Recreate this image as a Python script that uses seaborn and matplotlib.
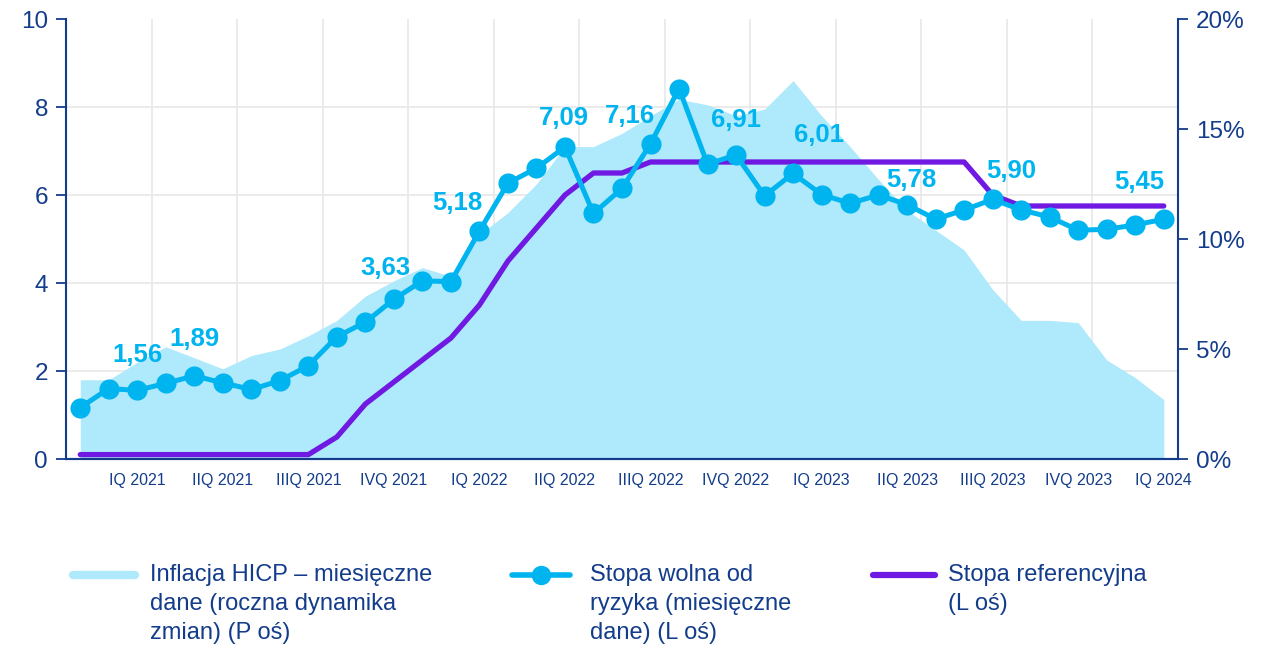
import pandas as pd
import matplotlib
matplotlib.use("Agg")
import matplotlib.pyplot as plt
from matplotlib.ticker import FixedLocator
from matplotlib.lines import Line2D
import seaborn as sns

# miesiące od I 2021 do III 2024 (indeksy 0..38)
months = list(range(39))

# Inflacja HICP r/r, % (prawa oś)
hicp = [3.6, 3.6, 4.4, 5.1, 4.6, 4.1, 4.7, 5.0, 5.6, 6.3,
        7.4, 8.1, 8.7, 8.3, 10.2, 11.2, 12.5, 14.2, 14.2, 14.8,
        15.6, 16.35, 16.1, 15.6, 15.9, 17.2, 15.6, 14.2, 12.7, 11.3,
        10.4, 9.5, 7.7, 6.3, 6.3, 6.2, 4.5, 3.7, 2.7]

# Stopa wolna od ryzyka (lewa oś)
risk_free = [1.17, 1.60, 1.56, 1.72, 1.89, 1.73, 1.58, 1.78, 2.12, 2.78,
             3.11, 3.63, 4.05, 4.03, 5.18, 6.27, 6.61, 7.09, 5.58, 6.15,
             7.16, 8.42, 6.70, 6.91, 5.98, 6.49, 6.01, 5.81, 6.00, 5.78,
             5.45, 5.66, 5.90, 5.66, 5.50, 5.20, 5.22, 5.32, 5.45]

# Stopa referencyjna NBP (lewa oś)
ref_rate = [0.10, 0.10, 0.10, 0.10, 0.10, 0.10, 0.10, 0.10, 0.10, 0.50,
            1.25, 1.75, 2.25, 2.75, 3.50, 4.50, 5.25, 6.00, 6.50, 6.50,
            6.75, 6.75, 6.75, 6.75, 6.75, 6.75, 6.75, 6.75, 6.75, 6.75,
            6.75, 6.75, 6.00, 5.75, 5.75, 5.75, 5.75, 5.75, 5.75]

quarter_labels = ["IQ 2021", "IIQ 2021", "IIIQ 2021", "IVQ 2021",
                  "IQ 2022", "IIQ 2022", "IIIQ 2022", "IVQ 2022",
                  "IQ 2023", "IIQ 2023", "IIIQ 2023", "IVQ 2023", "IQ 2024"]
quarter_end_months = [2, 5, 8, 11, 14, 17, 20, 23, 26, 29, 32, 35, 38]
quarter_bounds = [-0.5, 2.5, 5.5, 8.5, 11.5, 14.5, 17.5, 20.5, 23.5,
                  26.5, 29.5, 32.5, 35.5, 38.5]

# etykiety wartości: indeks miesiąca -> przesunięcie (px)
value_labels = {2: (0, 35), 4: (0, 37), 11: (-8, 31), 14: (-22, 28),
                17: (-1, 29), 20: (-21, 28), 23: (0, 35), 26: (-3, 60),
                29: (4, 25), 32: (19, 28), 38: (-24, 37)}

NAVY = "#133C8B"
AREA = "#AEE9FC"
CYAN = "#00B4EF"
PURPLE = "#6F19E2"
GRID = "#E8E8E8"

sns.set_style("white")
plt.rcParams["font.family"] = ["Liberation Sans", "DejaVu Sans"]

df = pd.DataFrame({"month": months, "hicp": hicp,
                   "risk_free": risk_free, "ref_rate": ref_rate})

fig = plt.figure(figsize=(12.69, 6.5), dpi=100)
ax = fig.add_axes([66 / 1269, 1 - 459 / 650, (1178 - 66) / 1269, 440 / 650])
ax2 = ax.twinx()

# prawa oś z tłem pod spodem
ax.set_zorder(ax2.get_zorder() + 1)
ax.patch.set_visible(False)
ax2.patch.set_visible(True)
ax2.patch.set_facecolor("white")
ax2.set_axisbelow(True)

ax2.fill_between(df["month"], 0, df["hicp"], color=AREA, lw=0, zorder=2)
ax2.set_ylim(0, 20)
ax2.set_yticks([0, 5, 10, 15, 20])
ax2.set_yticklabels([f"{v}%" for v in [0, 5, 10, 15, 20]])
ax2.yaxis.set_minor_locator(FixedLocator([4, 8, 12, 16, 20]))
ax2.grid(which="minor", axis="y", color=GRID, lw=1.2)
ax2.xaxis.set_visible(True)
ax2.grid(which="major", axis="x", color=GRID, lw=1.2)
ax2.tick_params(axis="x", which="both", length=0, labelbottom=False)
ax2.tick_params(axis="y", which="minor", length=0)
ax2.tick_params(axis="y", which="major", direction="out", length=7,
                width=1.3, color=NAVY, labelcolor=NAVY, labelsize=17.5, pad=6)

sns.lineplot(data=df, x="month", y="ref_rate", ax=ax, color=PURPLE,
             lw=3.8, solid_capstyle="round", zorder=3)
sns.lineplot(data=df, x="month", y="risk_free", ax=ax, color=CYAN,
             lw=3.6, marker="o", markersize=14.5, markeredgewidth=0, zorder=4)

for i, (dx, dy) in value_labels.items():
    ax.annotate(f"{risk_free[i]:.2f}".replace(".", ","), (i, risk_free[i]),
                xytext=(dx, dy), textcoords="offset pixels",
                ha="center", va="center", fontsize=18.5, fontweight="bold",
                color=CYAN, zorder=5)

ax.set_xlim(-0.5, 38.5)
ax.set_ylim(0, 10)
ax.set_yticks([0, 2, 4, 6, 8, 10])
ax.set_xticks(quarter_bounds)
ax.set_xticklabels([])
ax.set_xticks(quarter_end_months, minor=True)
ax.set_xticklabels(quarter_labels, minor=True)
ax.tick_params(axis="x", which="major", direction="out", length=6,
               width=1.3, color=NAVY)
ax.tick_params(axis="x", which="minor", length=0, labelcolor=NAVY,
               labelsize=11.5, pad=10)
ax.tick_params(axis="y", direction="out", length=7, width=1.3, color=NAVY,
               labelcolor=NAVY, labelsize=17.5, pad=6)
ax.set_xlabel("")
ax.set_ylabel("")
ax2.set_ylabel("")

for a in (ax, ax2):
    a.spines["top"].set_visible(False)
    for s in ("left", "right", "bottom"):
        a.spines[s].set_color(NAVY)
        a.spines[s].set_linewidth(1.5)
ax.spines["right"].set_visible(False)
ax2.spines["left"].set_visible(False)

# legenda rysowana ręcznie (uchwyty wyrównane do pierwszego wiersza)
legend_items = [
    ("Inflacja HICP – miesięczne\ndane (roczna dynamika\nzmian) (P oś)", 73, 135, 150,
     dict(color=AREA, lw=6)),
    ("Stopa wolna od\nryzyka (miesięczne\ndane) (L oś)", 512, 570, 590,
     dict(color=CYAN, lw=4, marker="o", markersize=14, markevery=[1], markeredgewidth=0)),
    ("Stopa referencyjna\n(L oś)", 873, 935, 948,
     dict(color=PURPLE, lw=4.5)),
]
W, H = 1269, 650
for text, x0, x1, xt, style in legend_items:
    fig.add_artist(Line2D([x0 / W, (x0 + x1) / 2 / W, x1 / W],
                          [1 - 575 / H] * 3, transform=fig.transFigure, **style))
    fig.text(xt / W, 1 - 564 / H, text, ha="left", va="top", fontsize=17,
             color=NAVY, linespacing=1.42)

fig.savefig("out.png", dpi=100)
